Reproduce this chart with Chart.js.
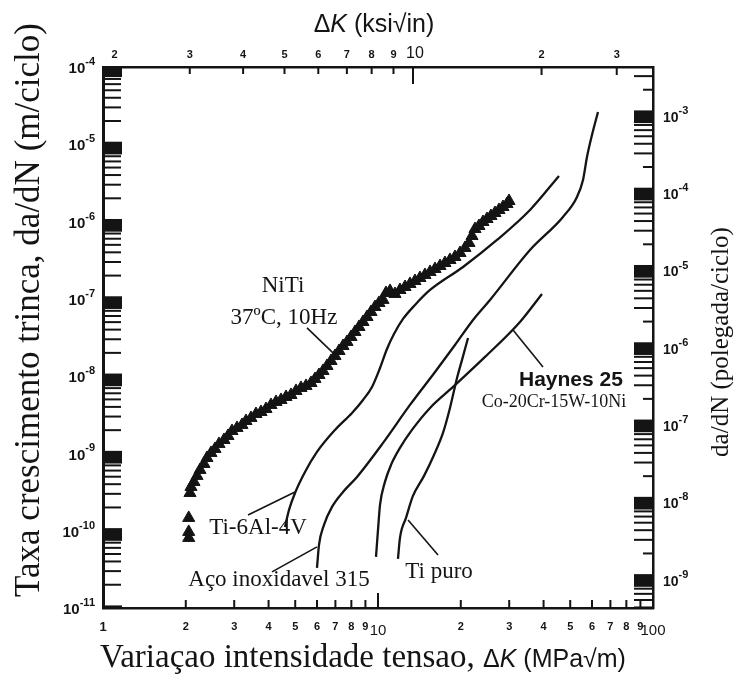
<!DOCTYPE html>
<html>
<head>
<meta charset="utf-8">
<title>da/dN x ΔK</title>
<script src="https://cdn.jsdelivr.net/npm/chart.js@4.4.1/dist/chart.umd.min.js"></script>
<style>
  html, body { margin: 0; padding: 0; background: #fff; }
  canvas { display: block; }
</style>
</head>
<body>
<canvas id="fcg" width="739" height="678"></canvas>
<script>
// ΔK em MPa√m, da/dN em m/ciclo

// NiTi, 37ºC, 10Hz (triangulos)
const nitiDK = [
  2.072, 2.089, 2.142, 2.197, 2.253, 2.329, 2.388, 2.470, 2.554, 2.641,
  2.754, 2.848, 2.945, 3.071, 3.202, 3.311, 3.453, 3.600, 3.754, 3.915,
  4.082, 4.257, 4.439, 4.629, 4.826, 5.033, 5.248, 5.473, 5.706, 5.901,
  6.102, 6.310, 6.525, 6.747, 6.977, 7.215, 7.461, 7.715, 7.977, 8.249,
  8.530, 8.820, 9.120, 9.431, 9.752, 10.08, 10.43, 10.69, 11.06, 11.53,
  12.02, 12.54, 13.07, 13.63, 14.21, 14.82, 15.46, 16.12, 16.81, 17.52,
  18.27, 19.05, 19.87, 20.72, 21.42, 21.97, 22.53, 23.29, 24.09, 24.91,
  25.75, 26.63, 27.54, 28.48, 29.45, 29.95
];
const nitiRate = [
  3.08e-10, 3.69e-10, 4.28e-10, 5.12e-10, 6.12e-10, 7.31e-10, 8.74e-10, 1.015e-9, 1.143e-9, 1.327e-9,
  1.494e-9, 1.683e-9, 1.954e-9, 2.138e-9, 2.337e-9, 2.63e-9, 2.88e-9, 3.24e-9, 3.44e-9, 3.76e-9,
  4.24e-9, 4.64e-9, 4.92e-9, 5.38e-9, 5.71e-9, 6.44e-9, 7.04e-9, 7.47e-9, 8.17e-9, 9.20e-9,
  1.036e-8, 1.168e-8, 1.355e-8, 1.573e-8, 1.825e-8, 2.118e-8, 2.458e-8, 2.77e-8, 3.215e-8, 3.73e-8,
  4.33e-8, 5.025e-8, 5.83e-8, 6.77e-8, 7.85e-8, 8.85e-8, 9.70e-8, 1.192e-7, 1.265e-7, 1.157e-7,
  1.303e-7, 1.425e-7, 1.559e-7, 1.704e-7, 1.864e-7, 2.038e-7, 2.228e-7, 2.436e-7, 2.664e-7, 2.913e-7,
  3.186e-7, 3.484e-7, 3.925e-7, 4.555e-7, 5.29e-7, 6.51e-7, 8.02e-7, 8.77e-7, 9.88e-7, 1.080e-6,
  1.181e-6, 1.292e-6, 1.413e-6, 1.545e-6, 1.689e-6, 1.847e-6
];
// pontos isolados abaixo do limiar
const nitiLowDK = [2.05, 2.05, 2.05];
const nitiLowRate = [1.464e-10, 9.65e-11, 8.07e-11];

const ti64DK = [4.590, 4.747, 4.991, 5.427, 6.000, 6.977, 8.044, 8.820, 9.510, 10.17,
  10.78, 11.43, 12.33, 13.63, 15.46, 20.38, 27.08, 35.70, 45.51];
const ti64Rate = [1.120e-10, 1.858e-10, 3.08e-10, 5.763e-10, 1.046e-9, 2.014e-9, 3.340e-9, 4.92e-9, 7.25e-9, 1.276e-8,
  2.248e-8, 3.515e-8, 5.495e-8, 8.34e-8, 1.303e-7, 2.587e-7, 5.78e-7, 1.413e-6, 3.89e-6];

const acoDK = [6.000, 6.102, 6.363, 6.804, 7.461, 8.388, 10.43, 13.07, 16.12, 19.05,
  22.16, 25.54, 35.70, 47.06, 52.92, 55.65, 57.54, 60.00, 63.10];
const acoRate = [3.303e-11, 6.55e-11, 1.189e-10, 2.032e-10, 3.177e-10, 4.967e-10, 1.367e-9, 4.24e-9, 1.133e-8, 2.532e-8,
  5.334e-8, 9.68e-8, 4.292e-7, 1.147e-6, 2.081e-6, 3.453e-6, 6.85e-6, 1.319e-5, 2.617e-5];

const haynesDK = [9.834, 10.00, 10.17, 10.60, 11.15, 12.02, 13.29, 15.46, 18.74, 24.50, 32.83, 39.48];
const haynesRate = [4.584e-11, 1.024e-10, 2.157e-10, 4.28e-10, 7.10e-10, 1.178e-9, 2.014e-9, 3.879e-9, 7.25e-9, 1.772e-8, 5.025e-8, 1.157e-7];

const tiPuroDK = [11.82, 12.02, 12.64, 13.40, 14.70, 15.98, 17.23, 18.27, 19.38, 20.21, 21.25];
const tiPuroRate = [4.318e-11, 8.07e-11, 1.464e-10, 2.819e-10, 5.12e-10, 9.56e-10, 1.842e-9, 3.879e-9, 9.48e-9, 1.621e-8, 3.120e-8];

// eixos
const bottomTicks = [1, 2, 3, 4, 5, 6, 7, 8, 9, 10, 20, 30, 40, 50, 60, 70, 80, 90, 100];
const bottomLabels = ['1', '2', '3', '4', '5', '6', '7', '8', '9', '10', '2', '3', '4', '5', '6', '7', '8', '9', '100'];
const topTicks = [2, 3, 4, 5, 6, 7, 8, 9, 10, 20, 30];
const topLabels = ['2', '3', '4', '5', '6', '7', '8', '9', '10', '2', '3'];
const leftExps = [-4, -5, -6, -7, -8, -9, -10, -11];
const rightExps = [-3, -4, -5, -6, -7, -8, -9];

const M_PER_IN = 0.0254;
const KSI_MIN = 1.879, KSI_MAX = 36.48;

const INK = '#141414';
const SERIF = '"Liberation Serif", "Times New Roman", serif';
const SANS = '"Liberation Sans", Arial, sans-serif';

// textos e linhas de chamada, em coordenadas dos dados
const notes = [
  { text: 'NiTi', dk: 4.514, rate: 1.468e-7, font: `23px ${SERIF}` },
  { text: '37ºC, 10Hz', dk: 4.552, rate: 5.66e-8, font: `23px ${SERIF}` },
  { text: 'Ti-6Al-4V', dk: 3.662, rate: 1.087e-10, font: `23px ${SERIF}` },
  { text: 'Aço inoxidavel 315', dk: 4.365, rate: 2.309e-11, font: `23px ${SERIF}` },
  { text: 'Ti puro', dk: 16.67, rate: 2.931e-11, font: `23px ${SERIF}` },
  { text: 'Haynes 25', dk: 50.31, rate: 8.93e-9, font: `bold 21px ${SANS}` },
  { text: 'Co-20Cr-15W-10Ni', dk: 43.65, rate: 4.64e-9, font: `18px ${SERIF}` }
];
const leaders = [
  [[5.519, 4.203e-8], [6.861, 1.996e-8]],
  [[3.368, 1.601e-10], [4.991, 3.177e-10]],
  [[4.117, 2.931e-11], [6.000, 6.17e-11]],
  [[16.53, 4.863e-11], [12.86, 1.379e-10]],
  [[39.81, 1.315e-8], [30.97, 3.960e-8]]
];

const pts = (xs, ys) => xs.map((v, i) => ({ x: v, y: ys[i] }));

function curve(xs, ys) {
  return {
    data: pts(xs, ys), xAxisID: 'x', yAxisID: 'y',
    borderColor: INK, borderWidth: 2.3, pointRadius: 0,
    fill: false, cubicInterpolationMode: 'monotone'
  };
}
function triangles(xs, ys) {
  return {
    data: pts(xs, ys), xAxisID: 'x', yAxisID: 'y', showLine: false,
    pointStyle: 'triangle', pointRadius: 7,
    pointBackgroundColor: INK, pointBorderColor: INK, pointBorderWidth: 1
  };
}

const datasets = [
  triangles(nitiDK, nitiRate),
  triangles(nitiLowDK, nitiLowRate),
  curve(ti64DK, ti64Rate),
  curve(acoDK, acoRate),
  curve(haynesDK, haynesRate),
  curve(tiPuroDK, tiPuroRate)
];
leaders.forEach(seg => datasets.push({
  data: seg.map(p => ({ x: p[0], y: p[1] })), xAxisID: 'x', yAxisID: 'y',
  borderColor: INK, borderWidth: 1.6, pointRadius: 0, fill: false, tension: 0
}));

function logAxis(position, min, max, size) {
  const horizontal = position === 'top' || position === 'bottom';
  return {
    type: 'logarithmic', position, min, max,
    grid: { display: false, drawTicks: false },
    border: { display: true, color: INK, width: position === 'left' ? 3 : 2.5 },
    ticks: { display: false },
    afterFit(scale) {
      if (horizontal) scale.height = size; else scale.width = size;
    }
  };
}

function seg(ctx, x1, y1, x2, y2) {
  ctx.beginPath();
  ctx.moveTo(x1, y1);
  ctx.lineTo(x2, y2);
  ctx.stroke();
}

function runs(ctx, parts, x, y) {
  for (const [t, f] of parts) {
    ctx.font = f;
    ctx.fillText(t, x, y);
    x += ctx.measureText(t).width;
  }
}
function runsWidth(ctx, parts) {
  let w = 0;
  for (const [t, f] of parts) { ctx.font = f; w += ctx.measureText(t).width; }
  return w;
}

// marcas internas, blocos das decadas, rotulos e titulos
const axisDecor = {
  id: 'axisDecor',
  afterDraw(chart) {
    const ctx = chart.ctx;
    const a = chart.chartArea;
    const { x, xTop, y, yIn } = chart.scales;
    ctx.save();
    ctx.strokeStyle = INK;
    ctx.fillStyle = INK;
    ctx.lineWidth = 2;

    const block = (scale, k, x0, w) => {
      let p1 = scale.getPixelForValue(1.08 * Math.pow(10, k));
      let p2 = scale.getPixelForValue(0.74 * Math.pow(10, k));
      p1 = Math.max(p1, a.top); p2 = Math.min(p2, a.bottom);
      if (p2 > p1) ctx.fillRect(x0, p1, w, p2 - p1);
    };

    // esquerda (m/ciclo)
    for (let k = -11; k <= -4; k++) {
      for (let n = 2; n <= 9; n++) {
        const v = n * Math.pow(10, k);
        if (v > y.max) continue;
        const py = y.getPixelForValue(v);
        seg(ctx, a.left, py, a.left + 18, py);
      }
      block(y, k, a.left, 19);
    }
    // direita (polegada/ciclo)
    for (let k = -10; k <= -3; k++) {
      for (let n = 2; n <= 9; n++) {
        const v = n * Math.pow(10, k);
        if (v < yIn.min || v > yIn.max) continue;
        const py = yIn.getPixelForValue(v);
        seg(ctx, a.right - (n === 2 ? 10 : 19), py, a.right, py);
      }
      block(yIn, k, a.right - 19, 19);
    }
    // inferior
    bottomTicks.forEach(v => {
      if (v === 1 || v === 100) return;
      const px = x.getPixelForValue(v);
      seg(ctx, px, a.bottom, px, a.bottom - (v === 10 ? 15 : 8));
    });
    // superior
    topTicks.forEach(v => {
      if (v === 2) return;
      const px = xTop.getPixelForValue(v);
      seg(ctx, px, a.top, px, a.top + (v === 10 ? 17 : (v > 10 ? 8 : 7)));
    });

    // rotulos
    ctx.textBaseline = 'middle';
    ctx.textAlign = 'center';
    bottomTicks.forEach((v, i) => {
      const big = v === 10 || v === 100;
      ctx.font = big ? `15px ${SANS}` : (v === 1 ? `bold 13px ${SANS}` : `bold 11px ${SANS}`);
      ctx.fillText(bottomLabels[i], x.getPixelForValue(v), a.bottom + (big ? 23 : 19));
    });
    topTicks.forEach((v, i) => {
      const big = v === 10;
      ctx.font = big ? `16px ${SANS}` : `bold 11px ${SANS}`;
      ctx.fillText(topLabels[i], xTop.getPixelForValue(v) + (big ? 2 : 0), a.top - (big ? 13 : 12));
    });

    ctx.textAlign = 'left';
    leftExps.forEach(e => {
      const py = y.getPixelForValue(Math.pow(10, e));
      const sup = String(e);
      ctx.font = `bold 11px ${SANS}`;
      const sw = ctx.measureText(sup).width;
      ctx.font = `bold 15px ${SANS}`;
      const bw = ctx.measureText('10').width;
      const xr = a.left - 8;
      ctx.fillText('10', xr - sw - bw, py + 2);
      ctx.font = `bold 11px ${SANS}`;
      ctx.fillText(sup, xr - sw, py - 5);
    });
    rightExps.forEach(e => {
      const py = yIn.getPixelForValue(Math.pow(10, e));
      const x0 = a.right + 10;
      ctx.font = `bold 14px ${SANS}`;
      ctx.fillText('10', x0, py + 5);
      const bw = ctx.measureText('10').width;
      ctx.font = `bold 11px ${SANS}`;
      ctx.fillText(String(e), x0 + bw, py - 2);
    });

    // anotacoes das curvas
    ctx.textAlign = 'center';
    notes.forEach(n => {
      ctx.font = n.font;
      ctx.fillText(n.text, x.getPixelForValue(n.dk), y.getPixelForValue(n.rate));
    });

    // titulos dos eixos
    ctx.textBaseline = 'alphabetic';
    ctx.textAlign = 'left';
    const topTitle = [['Δ', `25px ${SANS}`], ['K', `italic 25px ${SANS}`], [' (ksi√in)', `25px ${SANS}`]];
    runs(ctx, topTitle, 374 - runsWidth(ctx, topTitle) / 2, 32);
    const bottomTitle = [
      ['Variaçao intensidade tensao, ', `33px ${SERIF}`],
      ['Δ', `25px ${SANS}`], ['K', `italic 25px ${SANS}`], [' (MPa√m)', `25px ${SANS}`]
    ];
    runs(ctx, bottomTitle, 100, 667);

    ctx.textAlign = 'center';
    ctx.textBaseline = 'middle';
    ctx.save();
    ctx.translate(30, 310);
    ctx.rotate(-Math.PI / 2);
    ctx.font = `35px ${SERIF}`;
    ctx.fillText('Taxa crescimento trinca, da/dN (m/ciclo)', 0, 0);
    ctx.restore();
    ctx.save();
    ctx.translate(721, 342);
    ctx.rotate(-Math.PI / 2);
    ctx.font = `25px ${SERIF}`;
    ctx.fillText('da/dN (polegada/ciclo)', 0, 0);
    ctx.restore();

    ctx.restore();
  }
};

new Chart(document.getElementById('fcg'), {
  type: 'line',
  data: { datasets },
  options: {
    responsive: false,
    animation: false,
    events: [],
    layout: { padding: 0 },
    plugins: { legend: { display: false }, tooltip: { enabled: false } },
    scales: {
      x: logAxis('bottom', 1, 100, 70),
      xTop: logAxis('top', KSI_MIN, KSI_MAX, 67),
      y: logAxis('left', 1e-11, 1e-4, 103),
      yIn: logAxis('right', 1e-11 / M_PER_IN, 1e-4 / M_PER_IN, 86)
    }
  },
  plugins: [axisDecor]
});
</script>
</body>
</html>
